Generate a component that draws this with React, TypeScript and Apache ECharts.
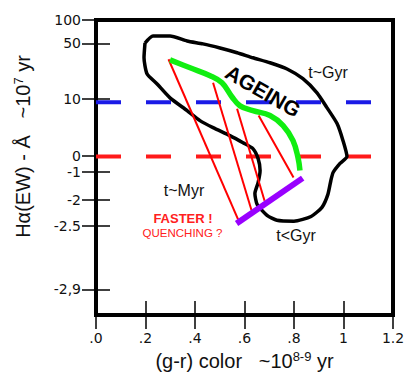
import React, { useEffect, useRef } from "react";
import * as echarts from "echarts";

// x axis: (g-r) colour
const xTicks = [0, 0.2, 0.4, 0.6, 0.8, 1.0, 1.2];
// y axis: schematic position (0 = bottom, 100 = top) and the labels printed there
const yTickPos = [8.7, 30.2, 39.0, 48.5, 53.9, 73.2, 92.1, 100];
const yTickLabels = ["-2,9", "-2.5", "-2", "-1", "0", "10", "50", "100"];

// reference levels (dashed)
const blueLevel = 72.1;
const redLevel = 53.7;

// black envelope of the galaxy population
const envelope: number[][] = [
  [0.198, 92.2], [0.23, 94.6], [0.299, 94.6], [0.368, 92.9], [0.432, 91.9],
  [0.501, 90.5], [0.57, 88.9], [0.634, 87.2], [0.703, 85.5], [0.772, 83.4],
  [0.836, 80.1], [0.893, 75.3], [0.933, 70.3], [0.974, 64.9], [0.998, 59.1],
  [1.014, 53.7], [0.986, 51.4], [0.958, 48.3], [0.949, 45.6], [0.937, 40.9],
  [0.913, 36.5], [0.869, 33.4], [0.8, 31.8], [0.731, 32.1], [0.691, 33.8],
  [0.651, 37.5], [0.642, 41.2], [0.655, 44.9], [0.663, 49.0], [0.655, 53.0],
  [0.634, 56.4], [0.594, 58.4], [0.541, 60.8], [0.473, 63.5], [0.42, 65.9],
  [0.368, 69.3], [0.299, 73.6], [0.246, 78.4], [0.206, 81.8], [0.194, 87.2],
  [0.198, 92.2],
];

// green ageing track
const ageingTrack: number[][] = [
  [0.299, 86.5], [0.38, 83.8], [0.461, 81.1], [0.509, 78.7], [0.549, 74.0],
  [0.582, 70.9], [0.634, 69.3], [0.703, 67.6], [0.756, 64.2], [0.796, 59.1],
  [0.816, 53.4], [0.824, 49.0],
];

// red quenching lines (start on ageing track, end on purple line)
const quenchLines: number[][][] = [
  [[0.293, 86.7], [0.574, 32.4]],
  [[0.473, 78.7], [0.628, 35.6]],
  [[0.57, 69.9], [0.681, 38.7]],
  [[0.657, 67.6], [0.798, 46.6]],
];

// purple fast-quenching front
const quenchFront: number[][] = [[0.568, 31.0], [0.835, 46.4]];

export default function App() {
  const ref = useRef<HTMLDivElement>(null);
  useEffect(() => {
    if (!ref.current) return;
    const chart = echarts.init(ref.current, undefined, { renderer: "svg" });
    const tickFont = "DejaVu Sans";
    const nameFont = "Liberation Sans, Arial, sans-serif";
    const tickStyle = { show: true, inside: true, length: 14, lineStyle: { color: "#000", width: 1.5 } };
    const xFmt = (v: number) =>
      v === 0 ? ".0" : v < 0.999 ? "." + Math.round(v * 10) : String(Math.round(v * 10) / 10);
    const yFmt = (v: number) => {
      const i = yTickPos.findIndex((p) => Math.abs(p - v) < 1e-6);
      return i >= 0 ? yTickLabels[i] : "";
    };
    const line = (data: number[][], color: string, width: number, extra: any = {}) => ({
      type: "line",
      data,
      symbol: "none",
      silent: true,
      clip: false,
      lineStyle: { color, width, cap: "butt", join: "round", ...(extra.lineStyle || {}) },
      smooth: extra.smooth || false,
      z: extra.z || 2,
    });
    const option: any = {
      animation: false,
      grid: {
        left: 96, right: 22, top: 20, bottom: 77,
        show: true, borderColor: "#000", borderWidth: 4, backgroundColor: "transparent",
      },
      xAxis: [
        {
          type: "value", min: 0, max: 1.2, interval: 0.2, position: "bottom",
          axisLine: { show: false }, splitLine: { show: false },
          axisTick: tickStyle,
          axisLabel: { formatter: xFmt, fontFamily: tickFont, fontSize: 14, color: "#111", margin: 16, showMinLabel: true, showMaxLabel: true },
          name: "(g-r) color   ~10{sup|8-9} yr",
          nameLocation: "middle", nameGap: 33,
          nameTextStyle: {
            fontFamily: nameFont, fontSize: 20, color: "#111",
            rich: { sup: { fontFamily: nameFont, fontSize: 13, color: "#111", verticalAlign: "bottom", padding: [0, 0, 9, 0] } },
          },
        },
        {
          type: "value", min: 0, max: 1.2, interval: 0.2, position: "top",
          axisLine: { show: false }, splitLine: { show: false },
          axisTick: tickStyle, axisLabel: { show: false },
        },
      ],
      yAxis: [
        {
          type: "value", min: 0, max: 100, position: "left",
          axisLine: { show: false }, splitLine: { show: false },
          axisTick: { ...tickStyle, customValues: yTickPos },
          axisLabel: { customValues: yTickPos, formatter: yFmt, fontFamily: tickFont, fontSize: 14, color: "#111", margin: 15 },
          name: "Hα(EW) - Å   ~10{sup|7} yr",
          nameLocation: "middle", nameRotate: 90, nameGap: 62,
          nameTextStyle: {
            fontFamily: nameFont, fontSize: 20, color: "#111", padding: [0, 0, 0, 42],
            rich: { sup: { fontFamily: nameFont, fontSize: 13, color: "#111", verticalAlign: "bottom", padding: [0, 0, 9, 0] } },
          },
        },
        {
          type: "value", min: 0, max: 100, position: "right",
          axisLine: { show: false }, splitLine: { show: false },
          axisTick: { ...tickStyle, customValues: yTickPos },
          axisLabel: { show: false },
        },
      ],
      series: [
        line([[0, blueLevel], [1.2, blueLevel]], "#1a1ae6", 4, { lineStyle: { type: [25, 25] }, z: 1 }),
        line([[0, redLevel], [1.2, redLevel]], "#ff1a1a", 4, { lineStyle: { type: [25, 25] }, z: 1 }),
        line(envelope, "#000", 3.5, { smooth: 0.2, z: 2 }),
        ...quenchLines.map((d) => line(d, "#ff0000", 2, { z: 3 })),
        line(ageingTrack, "#11ee11", 5.5, { smooth: 0.4, z: 4 }),
        line(quenchFront, "#9900ff", 6, { z: 5 }),
      ],
      graphic: [
        {
          type: "text", x: 263, y: 91, rotation: -Math.PI / 6, z: 10,
          style: { text: "AGEING", fontFamily: nameFont, fontWeight: "bold", fontSize: 21, fill: "#000", align: "center", verticalAlign: "middle" },
        },
        { type: "text", x: 328, y: 72, z: 10, style: { text: "t~Gyr", fontFamily: nameFont, fontSize: 16, fill: "#111", align: "center", verticalAlign: "middle" } },
        { type: "text", x: 184, y: 190, z: 10, style: { text: "t~Myr", fontFamily: nameFont, fontSize: 16, fill: "#111", align: "center", verticalAlign: "middle" } },
        { type: "text", x: 296, y: 235, z: 10, style: { text: "t<Gyr", fontFamily: nameFont, fontSize: 16, fill: "#111", align: "center", verticalAlign: "middle" } },
        { type: "text", x: 183, y: 218, z: 10, style: { text: "FASTER !", fontFamily: nameFont, fontWeight: "bold", fontSize: 13, fill: "#ff2020", align: "center", verticalAlign: "middle" } },
        { type: "text", x: 182.5, y: 232.5, z: 10, style: { text: "QUENCHING ?", fontFamily: nameFont, fontSize: 11.5, fill: "#ff2020", align: "center", verticalAlign: "middle" } },
      ],
    };
    chart.setOption(option);
    return () => chart.dispose();
  }, []);
  return <div ref={ref} style={{ position: "absolute", left: 0, top: 0, width: 415, height: 392 }} />;
}
